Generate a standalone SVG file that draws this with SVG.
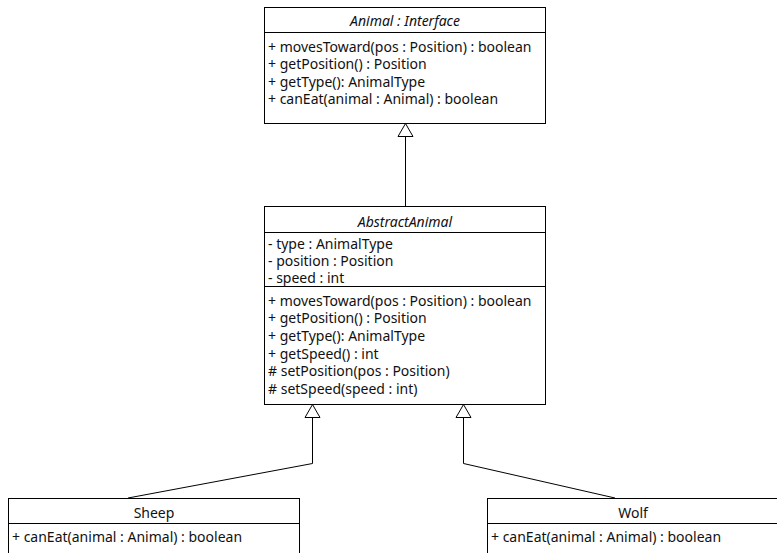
<svg xmlns="http://www.w3.org/2000/svg" width="777" height="553" viewBox="0 0 777 553">
<defs>
<style>
.box{fill:#fff;stroke:#000;stroke-width:1}
.sep{stroke:#000;stroke-width:1}
.t{font-family:"Noto Sans","Open Sans",sans-serif;font-size:14px;fill:#111}
.h{text-anchor:middle}
.i{font-style:italic}
.edge{fill:none;stroke:#000;stroke-width:1}
.arr{fill:#fff;stroke:#000;stroke-width:1}
</style>
</defs>
<rect width="777" height="553" fill="#fff"/>
<g id="connectors">
<path class="edge" d="M405.5,136 L405.5,206"/>
<path class="arr" d="M405.5,123.5 L413,136.5 L398,136.5 Z"/>
<path class="edge" d="M312.5,417 L312.5,463.5 L128,498"/>
<path class="arr" d="M312.5,404.5 L320,417.5 L305,417.5 Z"/>
<path class="edge" d="M463.5,417 L463.5,463.5 L615,498"/>
<path class="arr" d="M463.5,404.5 L471,417.5 L456,417.5 Z"/>
</g>
<g id="animal">
<rect class="box" x="264.5" y="7.5" width="281" height="116"/>
<line class="sep" x1="264.5" y1="32.5" x2="545.5" y2="32.5"/>
<text class="t h i" x="405" y="25.5">Animal : Interface</text>
<text class="t" x="268" y="51.5">+ movesToward(pos : Position) : boolean</text>
<text class="t" x="268" y="69">+ getPosition() : Position</text>
<text class="t" x="268" y="86.6">+ getType(): AnimalType</text>
<text class="t" x="268" y="104.2">+ canEat(animal : Animal) : boolean</text>
</g>
<g id="abstractAnimal">
<rect class="box" x="264.5" y="206.5" width="281" height="198"/>
<line class="sep" x1="264.5" y1="232.5" x2="545.5" y2="232.5"/>
<line class="sep" x1="264.5" y1="286.5" x2="545.5" y2="286.5"/>
<text class="t h i" x="405" y="226.5">AbstractAnimal</text>
<text class="t" x="268" y="248.8">- type : AnimalType</text>
<text class="t" x="268" y="266">- position : Position</text>
<text class="t" x="268" y="283.2">- speed : int</text>
<text class="t" x="268" y="305.5">+ movesToward(pos : Position) : boolean</text>
<text class="t" x="268" y="323">+ getPosition() : Position</text>
<text class="t" x="268" y="340.7">+ getType(): AnimalType</text>
<text class="t" x="268" y="358.6">+ getSpeed() : int</text>
<text class="t" x="268" y="376.4">&#35; setPosition(pos : Position)</text>
<text class="t" x="268" y="394">&#35; setSpeed(speed : int)</text>
</g>
<g id="sheep">
<rect class="box" x="8.5" y="498.5" width="291" height="70"/>
<line class="sep" x1="8.5" y1="523.5" x2="299.5" y2="523.5"/>
<text class="t h" x="154" y="518">Sheep</text>
<text class="t" x="12" y="541.5">+ canEat(animal : Animal) : boolean</text>
</g>
<g id="wolf">
<rect class="box" x="487.5" y="498.5" width="291" height="70"/>
<line class="sep" x1="487.5" y1="523.5" x2="778.5" y2="523.5"/>
<text class="t h" x="633" y="518">Wolf</text>
<text class="t" x="491" y="541.5">+ canEat(animal : Animal) : boolean</text>
</g>
</svg>
